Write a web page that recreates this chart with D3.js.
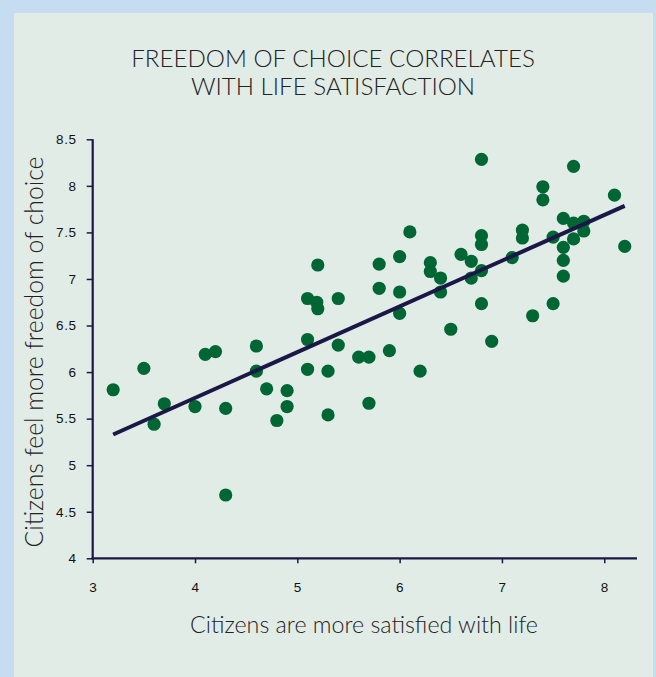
<!DOCTYPE html>
<html>
<head>
<meta charset="utf-8">
<script src="https://cdn.jsdelivr.net/npm/d3@7"></script>
<style>
  html, body { margin: 0; padding: 0; background: #c5dcf1; }
  svg { display: block; }
</style>
</head>
<body>
<svg id="chart" width="656" height="677"></svg>
<script>
// ---- data ----
const titleLines = ["FREEDOM OF CHOICE CORRELATES", "WITH LIFE SATISFACTION"];
const xTitle = "Citizens are more satisfied with life";
const yTitle = "Citizens feel more freedom of choice";
const xTicks = [3, 4, 5, 6, 7, 8];
const yTicks = [4, 4.5, 5, 5.5, 6, 6.5, 7, 7.5, 8, 8.5];

const lifeSatisfaction = [
  3.2, 3.5, 3.6, 3.7, 4.0, 4.1, 4.2, 4.3, 4.3, 4.6,
  4.6, 4.7, 4.8, 4.9, 4.9, 5.1, 5.1, 5.1, 5.2, 5.19,
  5.2, 5.3, 5.3, 5.4, 5.4, 5.6, 5.7, 5.7, 5.8, 5.8,
  5.9, 6.0, 6.0, 6.0, 6.1, 6.2, 6.3, 6.3, 6.4, 6.4,
  6.5, 6.6, 6.7, 6.7, 6.8, 6.8, 6.8, 6.8, 6.8, 6.9,
  7.1, 7.2, 7.2, 7.3, 7.4, 7.4, 7.5, 7.5, 7.6, 7.6,
  7.6, 7.6, 7.7, 7.7, 7.7, 7.8, 7.8, 8.1, 8.2
];
const freedomOfChoice = [
  5.81, 6.04, 5.44, 5.66, 5.63, 6.19, 6.22, 5.61, 4.68, 6.28,
  6.01, 5.82, 5.48, 5.80, 5.63, 6.35, 6.03, 6.79, 7.15, 6.75,
  6.68, 6.01, 5.54, 6.29, 6.79, 6.16, 6.16, 5.665, 7.16, 6.90,
  6.23, 7.24, 6.86, 6.63, 7.505, 6.01, 7.175, 7.08, 7.01, 6.86,
  6.46, 7.265, 7.19, 7.01, 8.285, 7.465, 7.37, 7.09, 6.735, 6.33,
  7.23, 7.525, 7.44, 6.605, 7.99, 7.85, 7.45, 6.735, 7.65, 7.34,
  7.20, 7.03, 8.21, 7.60, 7.43, 7.62, 7.515, 7.90, 7.35
];
const trendX = [3.2, 8.2];
const trendY = [5.33, 7.785];

// ---- layout ----
const W = 656, H = 677;
const svg = d3.select("#chart");
const FONT = "Lato, 'Open Sans', 'DejaVu Sans', sans-serif";
const AX = "#1b1847";

svg.append("rect").attr("x", 0).attr("y", 0).attr("width", W).attr("height", H).attr("fill", "#c5dcf1");
svg.append("rect").attr("x", 14).attr("y", 13).attr("width", 639).attr("height", H).attr("fill", "#e2ece7");

const x = d3.scaleLinear().domain([3, 8.32]).range([92.7, 637]);
const y = d3.scaleLinear().domain([4, 8.5]).range([558.3, 139.3]);

function fitText(sel, target) {
  const node = sel.node();
  const fs = parseFloat(sel.attr("font-size"));
  const len = node.getComputedTextLength();
  if (len > 0) sel.attr("font-size", (fs * target / len).toFixed(2));
}

// title
const t1 = svg.append("text").attr("x", 333).attr("y", 67).attr("text-anchor", "middle")
  .attr("font-family", FONT).attr("font-weight", 300).attr("font-size", 22).attr("fill", "#222").text(titleLines[0]);
fitText(t1, 404);
const t2 = svg.append("text").attr("x", 333).attr("y", 95).attr("text-anchor", "middle")
  .attr("font-family", FONT).attr("font-weight", 300).attr("font-size", t1.attr("font-size")).attr("fill", "#222").text(titleLines[1]);

// axes
const xAxis = svg.append("g").attr("transform", `translate(0,${y(4)})`)
  .call(d3.axisBottom(x).tickValues(xTicks).tickFormat(d3.format("d")).tickSizeInner(5).tickSizeOuter(0).tickPadding(19));
const yAxis = svg.append("g").attr("transform", `translate(${x(3)},0)`)
  .call(d3.axisLeft(y).tickValues(yTicks).tickFormat(d => String(d)).tickSizeInner(6).tickSizeOuter(0).tickPadding(10));

[xAxis, yAxis].forEach(g => {
  g.select(".domain").attr("stroke", AX).attr("stroke-width", 2.2);
  g.selectAll(".tick line").attr("stroke", AX).attr("stroke-width", 1.5);
  g.selectAll(".tick text").attr("fill", "#111").attr("font-family", "'Liberation Sans', Arial, sans-serif")
    .attr("font-size", 13.5).attr("letter-spacing", "0.6px");
});
xAxis.select(".domain").attr("d", `M${x(3) - 1},0H${x(8.32)}`);
yAxis.select(".domain").attr("d", `M0,${y(8.5)}V${y(4) + 1}`);

// points
svg.append("g").selectAll("circle")
  .data(lifeSatisfaction.map((v, i) => [v, freedomOfChoice[i]]))
  .join("circle")
  .attr("cx", d => x(d[0])).attr("cy", d => y(d[1])).attr("r", 6.6)
  .attr("fill", "#006633");

// trend line
svg.append("path")
  .datum(trendX.map((v, i) => [v, trendY[i]]))
  .attr("d", d3.line().x(d => x(d[0])).y(d => y(d[1])))
  .attr("stroke", "#1b1847").attr("stroke-width", 4).attr("fill", "none");

// axis titles
const xt = svg.append("text").attr("x", 364).attr("y", 633).attr("text-anchor", "middle")
  .attr("font-family", FONT).attr("font-weight", 300).attr("font-size", 20).attr("fill", "#222").text(xTitle);
fitText(xt, 348);
const yt = svg.append("text").attr("transform", "translate(43,352) rotate(-90)").attr("text-anchor", "middle")
  .attr("font-family", FONT).attr("font-weight", 300).attr("font-size", 22).attr("fill", "#222").text(yTitle);
fitText(yt, 391);
</script>
</body>
</html>
